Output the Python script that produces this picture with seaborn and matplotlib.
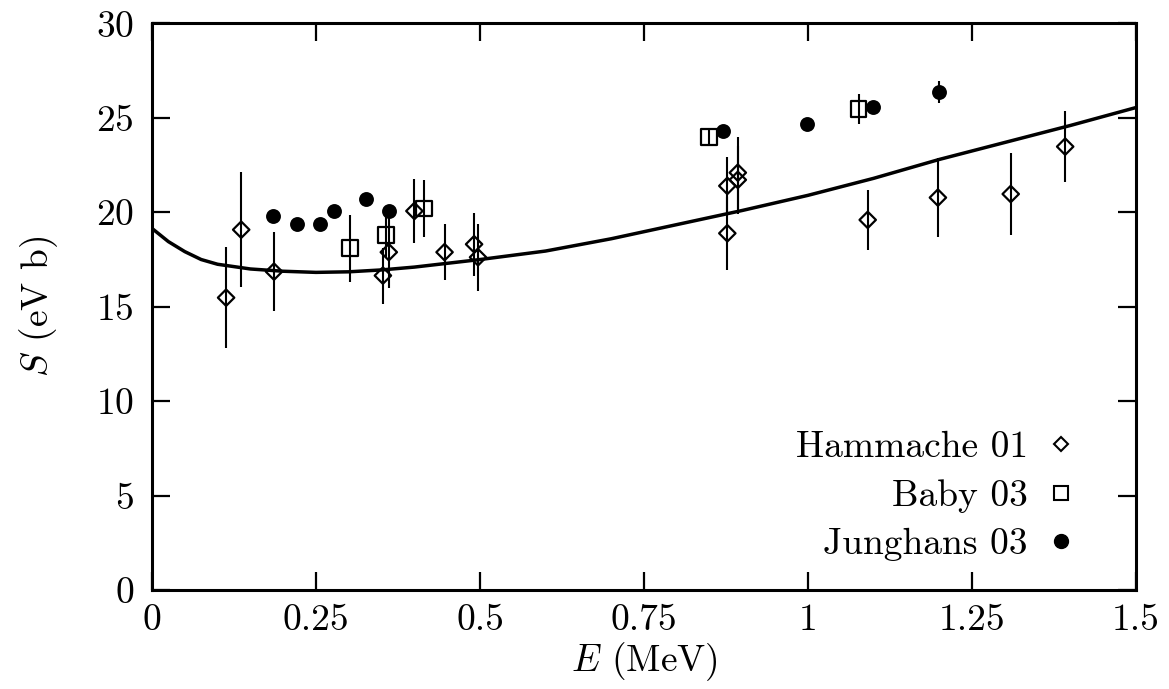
import numpy as np
import pandas as pd
import matplotlib
matplotlib.use("Agg")
import matplotlib.pyplot as plt
import seaborn as sns
from matplotlib.lines import Line2D

# ---- data ----
ham_E = [0.113, 0.136, 0.186, 0.352, 0.361, 0.400, 0.446, 0.491, 0.497,
         0.877, 0.877, 0.893, 0.893, 1.091, 1.198, 1.309, 1.392]
ham_S = [15.48, 19.08, 16.86, 16.65, 17.89, 20.07, 17.89, 18.31, 17.62,
         21.40, 18.89, 22.10, 21.72, 19.60, 20.78, 20.97, 23.48]
ham_err = [2.69, 3.06, 2.10, 1.48, 1.90, 1.69, 1.48, 1.66, 1.78,
           1.53, 1.94, 1.90, 1.80, 1.59, 2.08, 2.18, 1.89]

baby_E = [0.302, 0.357, 0.415, 0.849, 1.077]
baby_S = [18.10, 18.79, 20.20, 23.98, 25.49]
baby_err = [1.78, 1.20, 1.50, 0.47, 0.80]

jung_E = [0.184, 0.221, 0.256, 0.278, 0.327, 0.362, 0.871, 0.999, 1.099, 1.199]
jung_S = [19.81, 19.39, 19.39, 20.07, 20.69, 20.07, 24.30, 24.68, 25.58, 26.38]
jung_err = [0.30, 0.30, 0.30, 0.30, 0.30, 0.30, 0.30, 0.30, 0.30, 0.58]

curve_E = [0, 0.025, 0.05, 0.075, 0.1, 0.15, 0.2, 0.25, 0.3, 0.35, 0.4, 0.5,
           0.6, 0.7, 0.8, 0.9, 1.0, 1.1, 1.2, 1.3, 1.4, 1.5]
curve_S = [19.15, 18.45, 17.92, 17.50, 17.25, 17.00, 16.88, 16.82, 16.85,
           16.95, 17.10, 17.50, 17.95, 18.60, 19.35, 20.10, 20.90, 21.80,
           22.80, 23.70, 24.60, 25.55]

labels = ["Hammache 01", "Baby 03", "Junghans 03"]
x_ticks = [0, 0.25, 0.5, 0.75, 1, 1.25, 1.5]
x_ticklabels = ["0", "0.25", "0.5", "0.75", "1", "1.25", "1.5"]
y_ticks = [0, 5, 10, 15, 20, 25, 30]

# ---- style ----
sns.set_theme(style="white")
plt.rcParams.update({
    "font.family": "serif",
    "font.serif": ["cmr10"],
    "mathtext.fontset": "cm",
    "axes.formatter.use_mathtext": True,
    "axes.unicode_minus": False,
    "axes.edgecolor": "black",
    "axes.linewidth": 2.2,
    "text.color": "black",
    "axes.labelcolor": "black",
    "xtick.color": "black",
    "ytick.color": "black",
    "xtick.labelcolor": "black",
    "ytick.labelcolor": "black",
})

FS = 27

fig = plt.figure(figsize=(11.69, 6.89), dpi=100)
ax = fig.add_axes([0.1300, 0.1437, 0.9718 - 0.1300, 0.9659 - 0.1437])

ham = pd.DataFrame({"E": ham_E, "S": ham_S, "err": ham_err})
baby = pd.DataFrame({"E": baby_E, "S": baby_S, "err": baby_err})
jung = pd.DataFrame({"E": jung_E, "S": jung_S, "err": jung_err})
curve = pd.DataFrame({"E": curve_E, "S": curve_S})

for df in (ham, baby, jung):
    ax.errorbar(df["E"], df["S"], yerr=df["err"], fmt="none", ecolor="black",
                elinewidth=1.5, capsize=0, zorder=2)

sns.scatterplot(data=ham, x="E", y="S", ax=ax, marker="D", s=70, color="black",
                facecolor="none", edgecolor="black", linewidth=1.6, zorder=3)
sns.scatterplot(data=baby, x="E", y="S", ax=ax, marker="s", s=130, color="black",
                facecolor="none", edgecolor="black", linewidth=1.6, zorder=3)
sns.scatterplot(data=jung, x="E", y="S", ax=ax, marker="o", s=115, color="black",
                edgecolor="black", linewidth=0, zorder=3)
sns.lineplot(data=curve, x="E", y="S", ax=ax, color="black", linewidth=2.5,
             zorder=4, sort=False)

ax.set_xlim(0, 1.5)
ax.set_ylim(0, 30)
ax.set_xticks(x_ticks)
ax.set_xticklabels(x_ticklabels)
ax.set_yticks(y_ticks)
ax.tick_params(axis="both", which="both", direction="in", length=13, width=1.6,
               labelsize=FS, top=True, right=True, bottom=True, left=True,
               labelcolor="black", color="black")
ax.tick_params(axis="x", pad=10)
ax.tick_params(axis="y", pad=13)
for sp in ax.spines.values():
    sp.set_visible(True)
    sp.set_linewidth(2.2)
    sp.set_color("black")

ax.set_xlabel(r"$E$ (MeV)", fontsize=FS, labelpad=2, color="black")
ax.set_ylabel(r"$S$ (eV b)", fontsize=FS, labelpad=26, color="black")

handles = [
    Line2D([], [], marker="D", ls="none", markersize=7.0, markerfacecolor="none",
           markeredgecolor="black", markeredgewidth=1.5),
    Line2D([], [], marker="s", ls="none", markersize=9.5, markerfacecolor="none",
           markeredgecolor="black", markeredgewidth=1.5),
    Line2D([], [], marker="o", ls="none", markersize=10, markerfacecolor="black",
           markeredgecolor="black"),
]
leg = ax.legend(handles, labels, loc="lower right", frameon=False, markerfirst=False,
                fontsize=FS, handlelength=1.0, handletextpad=0.38, labelspacing=0.41,
                bbox_to_anchor=(0.958, 0.024), borderaxespad=0.0)
for t in leg.get_texts():
    t.set_ha("right")
    t.set_color("black")
leg._legend_box.align = "right"

fig.savefig("out.png", dpi=100)
